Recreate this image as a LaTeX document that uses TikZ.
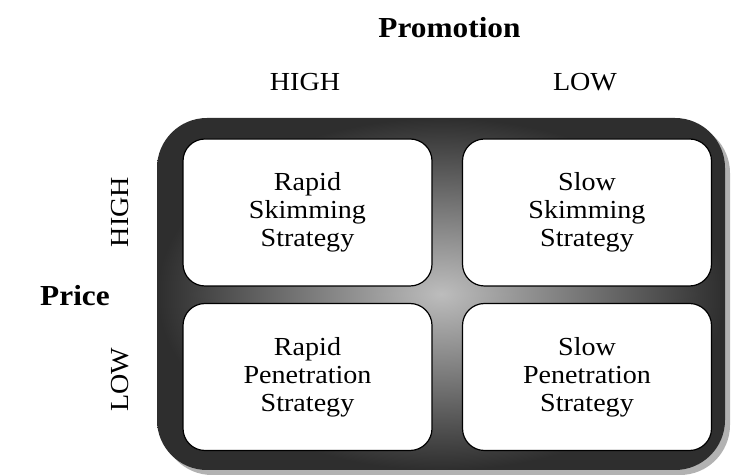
\documentclass[tikz,border=0pt]{standalone}
\usepackage{fontspec}
\setmainfont{Liberation Serif}[FakeStretch=1.08]
\usetikzlibrary{shadows}
\tikzset{
	cell/.style={draw=black, line width=1.2pt, fill=white, rounded corners=22pt, minimum width=249pt, minimum height=147pt, align=center, font=\fontsize{26}{28}\selectfont},
	level/.style={font=\fontsize{26}{28}\selectfont},
	axis/.style={font=\bfseries\fontsize{29}{32}\selectfont},
}
\begin{document}
\begin{tikzpicture}[x=1pt,y=1pt]
	\useasboundingbox (0,0) rectangle (733,476);
	
	\node[inner sep=0pt, minimum width=568pt, minimum height=352pt, rounded corners=50pt, inner color=black!26, outer color=black!82, drop shadow={shadow xshift=5pt, shadow yshift=-5pt, fill=black!30, opacity=1}] (frame) at (441,182) {};
	
	\node[cell] (rapidskim) at (307.5,263.5) {Rapid\\Skimming\\Strategy};
	\node[cell] (slowskim) at (587,263.5) {Slow\\Skimming\\Strategy};
	\node[cell] (rapidpen) at (307.5,99) {Rapid\\Penetration\\Strategy};
	\node[cell] (slowpen) at (587,99) {Slow\\Penetration\\Strategy};
	
	\node[axis, anchor=base] (promotion) at (449.5,438) {Promotion};
	\node[level, anchor=base] (promohigh) at (305,385) {HIGH};
	\node[level, anchor=base] (promolow) at (585,385) {LOW};
	
	\node[axis, anchor=base] (price) at (75,170) {Price};
	\node[level, rotate=90] (pricehigh) at (120,264) {HIGH};
	\node[level, rotate=90] (pricelow) at (120,96) {LOW};
	
\end{tikzpicture}
\end{document}
